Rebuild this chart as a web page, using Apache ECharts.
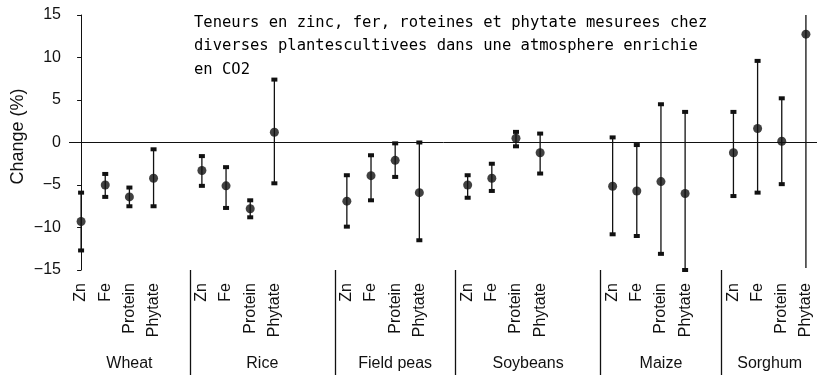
<!DOCTYPE html>
<html>
<head>
<meta charset="utf-8">
<script src="https://cdn.jsdelivr.net/npm/echarts@6/dist/echarts.min.js"></script>
<style>html,body{margin:0;padding:0;background:#fff}#c{width:817px;height:383px}</style>
</head>
<body>
<div id="c"></div>
<script>
const titleText = 'Teneurs en zinc, fer, roteines et phytate mesurees chez\ndiverses plantescultivees dans une atmosphere enrichie\nen CO2';
const groups = ['Wheat', 'Rice', 'Field peas', 'Soybeans', 'Maize', 'Sorghum'];
const nutrients = ['Zn', 'Fe', 'Protein', 'Phytate'];
const gapsAfter = [1, 2, 1, 2, 1, 0];
const yTicks = [-15, -10, -5, 0, 5, 10, 15];
// mean change (%) per group, in nutrient order
const meanChange = [
  [-9.3, -5.0, -6.4, -4.2],
  [-3.3, -5.1, -7.8, 1.2],
  [-6.9, -3.9, -2.1, -5.9],
  [-5.0, -4.2, 0.5, -1.2],
  [-5.15, -5.7, -4.6, -6.0],
  [-1.2, 1.65, 0.15, 12.75]
];
const lowCI = [
  [-12.7, -6.4, -7.5, -7.5],
  [-5.1, -7.7, -8.8, -4.8],
  [-9.9, -6.8, -4.05, -11.5],
  [-6.5, -5.7, -0.45, -3.65],
  [-10.8, -11.0, -13.1, -15.0],
  [-6.3, -5.9, -4.9, -16.0]
];
const highCI = [
  [-5.9, -3.7, -5.3, -0.8],
  [-1.6, -2.9, -6.8, 7.4],
  [-3.85, -1.5, -0.1, 0.0],
  [-3.85, -2.5, 1.25, 1.05],
  [0.6, -0.3, 4.5, 3.6],
  [3.6, 9.6, 5.2, 18.0]
];

// build slots
const slots = [];
const meanPts = [];
const barPts = [];
const groupStart = [];
groups.forEach((g, gi) => {
  groupStart.push(slots.length);
  nutrients.forEach((n, ni) => {
    const idx = slots.length;
    slots.push(n);
    meanPts.push([idx, meanChange[gi][ni]]);
    barPts.push([idx, lowCI[gi][ni], highCI[gi][ni]]);
  });
  for (let k = 0; k < gapsAfter[gi]; k++) slots.push('');
});
const nSlots = slots.length;
const separators = groupStart.slice(1).map(s => s - 0.5);
const groupCenters = groups.map((g, gi) => {
  const a = groupStart[gi] - 0.5;
  const b = gi < groups.length - 1 ? groupStart[gi + 1] - 0.5 : nSlots - 0.5;
  return (a + b) / 2;
});

const yMin = yTicks[0], yMax = yTicks[yTicks.length - 1];
const ink = '#111';
const font = "'Liberation Sans', Arial, Helvetica, sans-serif";

const chart = echarts.init(document.getElementById('c'), null, {renderer: 'canvas'});
chart.setOption({
  animation: false,
  textStyle: {fontFamily: font},
  title: {
    text: titleText,
    left: 189, top: 6,
    textStyle: {fontFamily: "'DejaVu Sans Mono', monospace", fontSize: 15.5, fontWeight: 'normal', color: '#000', lineHeight: 23.5}
  },
  grid: {left: 69, top: 15, height: 255, width: 749, containLabel: false, outerBoundsMode: 'none'},
  xAxis: [
    {
      type: 'category', data: slots, boundaryGap: true,
      axisLine: {show: false}, axisTick: {show: false}, splitLine: {show: false},
      axisLabel: {interval: 0, rotate: 90, margin: 13, fontSize: 16, color: ink, fontFamily: font}
    },
    {
      type: 'value', min: -0.5, max: nSlots - 0.5, position: 'bottom',
      axisLine: {show: false}, splitLine: {show: false},
      axisTick: {show: true, customValues: separators, length: 105, lineStyle: {color: ink, width: 1.3}},
      axisLabel: {
        show: true, customValues: groupCenters, margin: 86, fontSize: 16, color: ink, fontFamily: font,
        formatter: v => { const i = groupCenters.findIndex(c => Math.abs(c - v) < 1e-6); return i >= 0 ? groups[i] : ''; }
      }
    }
  ],
  yAxis: {
    type: 'value', min: yMin, max: yMax, interval: 5,
    name: 'Change (%)', nameLocation: 'middle', nameGap: 42, nameMoveOverlap: false,
    nameTextStyle: {fontSize: 18, color: ink, fontFamily: font, padding: [0, 0, 0, 12]},
    axisLine: {show: true, lineStyle: {color: ink, width: 1}},
    axisTick: {show: true, length: 4, lineStyle: {color: ink}},
    splitLine: {show: false},
    axisLabel: {fontSize: 16, color: ink, margin: 8, fontFamily: font, formatter: v => String(v).replace('-', '\u2212')}
  },
  series: [
    {
      type: 'custom', xAxisIndex: 0, yAxisIndex: 0, z: 2,
      data: barPts,
      renderItem: (params, api) => {
        const x = api.value(0), lo = api.value(1), hi = api.value(2);
        const cs = params.coordSys;
        const pLo = api.coord([x, lo]);
        const pHi = api.coord([x, hi]);
        const clampY = y => Math.max(cs.y, Math.min(cs.y + cs.height - 2, y));
        const children = [{
          type: 'line',
          shape: {x1: pLo[0], y1: clampY(pLo[1]), x2: pHi[0], y2: clampY(pHi[1])},
          style: {stroke: ink, lineWidth: 1.3}
        }];
        [[lo, pLo], [hi, pHi]].forEach(([v, p]) => {
          if (v >= yMin - 0.05 && v <= yMax + 0.05) {
            children.push({type: 'rect', shape: {x: p[0] - 3, y: p[1] - 2, width: 6, height: 4}, style: {fill: ink}});
          }
        });
        return {type: 'group', children};
      }
    },
    {
      type: 'scatter', xAxisIndex: 0, yAxisIndex: 0, z: 3,
      data: meanPts, symbol: 'circle', symbolSize: 9,
      itemStyle: {color: ink},
      markLine: {
        silent: true, symbol: 'none', label: {show: false},
        lineStyle: {color: ink, width: 1, type: 'solid'},
        data: [{yAxis: 0}]
      }
    }
  ]
});
</script>
</body>
</html>
